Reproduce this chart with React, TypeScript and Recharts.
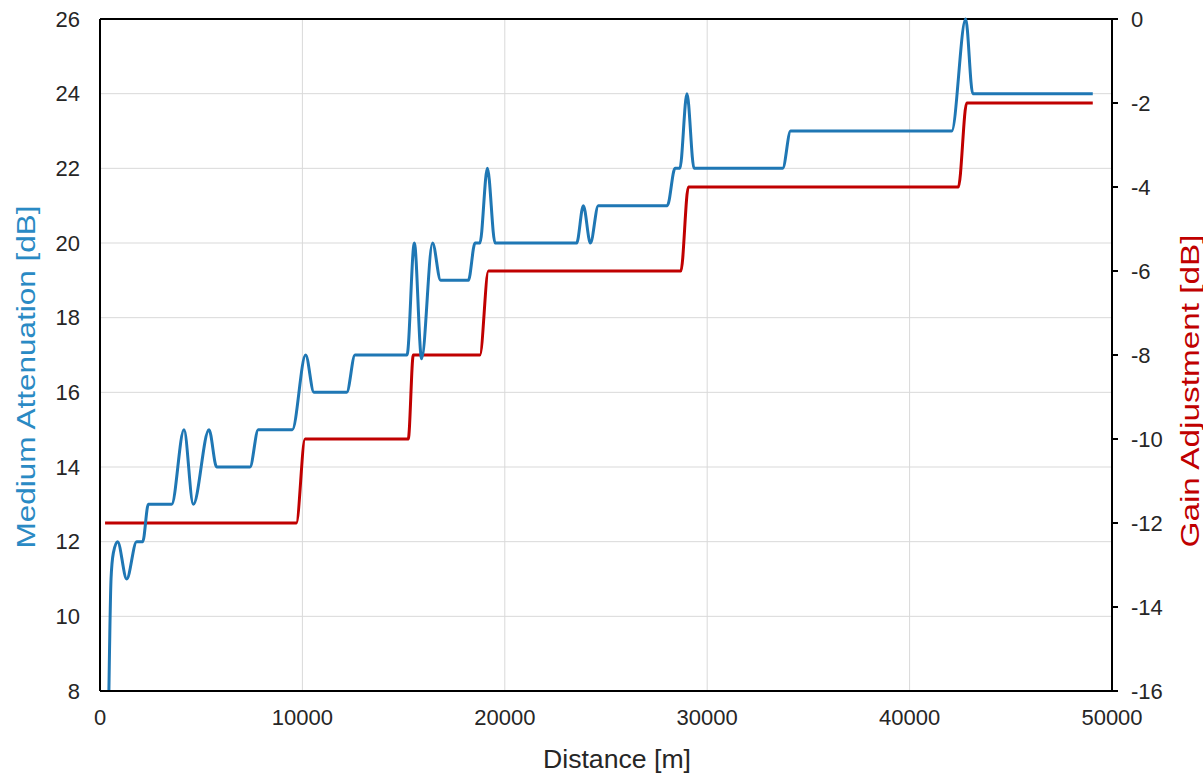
import React from 'react';
import { LineChart, Line, XAxis, YAxis, CartesianGrid, ReferenceLine, Label } from 'recharts';

// Axis ticks
const distanceTicks = [0, 10000, 20000, 30000, 40000, 50000];
const attenuationTicks = [8, 10, 12, 14, 16, 18, 20, 22, 24, 26];
const gainTicks = [-16, -14, -12, -10, -8, -6, -4, -2, 0];

// Medium attenuation profile along the distance [m] -> [dB]
const attenuationDistance = [
  440, 545, 660, 870, 1320, 1810, 2110, 2390, 3540, 4150, 4610, 5385, 5765, 7410, 7820, 9500,
  10160, 10570, 12190, 12600, 15170, 15530, 15890, 16430, 16830, 18200, 18530, 18770, 19140,
  19520, 23550, 23880, 24230, 24620, 28030, 28410, 28650, 29000, 29350, 33730, 34120, 42080,
  42770, 43120, 49050,
];
const attenuationDb = [
  8, 11, 11.7, 12, 11, 12, 12, 13, 13, 15, 13, 15, 14, 14, 15, 15,
  17, 16, 16, 17, 17, 20, 16.9, 20, 19, 19, 20, 20, 22,
  20, 20, 21, 20, 21, 21, 22, 22, 24, 22, 22, 23, 23,
  26, 24, 24,
];

// Gain adjustment steps along the distance [m] -> [dB]
const gainDistance = [250, 9700, 10130, 15230, 15480, 18770, 19190, 28700, 29070, 42410, 42820, 49050];
const gainDb = [-12, -12, -10, -10, -8, -8, -6, -6, -4, -4, -2, -2];

const attenuationPoints = attenuationDistance.map((d, i) => ({ distance: d, attenuation: attenuationDb[i] }));
const gainPoints = gainDistance.map((d, i) => ({ distance: d, gain: gainDb[i] }));

const FONT = '"Liberation Sans", Arial, sans-serif';
const BLUE = '#1f77b4';
const BLUE_TEXT = '#2a8ac4';
const RED = '#c00000';
const TEXT = '#262626';
const TICK = { fill: TEXT, fontSize: 22, fontFamily: FONT };

const VerticalTitle = ({ cx, cy, text, color, length }: any) => (
  <text
    x={cx}
    y={cy}
    transform={`rotate(-90, ${cx}, ${cy})`}
    textAnchor="middle"
    dominantBaseline="central"
    fontSize={25}
    fill={color}
    fontFamily={FONT}
    textLength={length}
    lengthAdjust="spacingAndGlyphs"
  >
    {text}
  </text>
);

export default function App() {
  return (
    <div style={{ position: 'absolute', left: 0, top: 0, width: 1203, height: 778 }}>
      <LineChart
        width={1203}
        height={778}
        margin={{ top: 19, right: 0, bottom: 0, left: 0 }}
        style={{ fontFamily: FONT }}
      >
        <CartesianGrid yAxisId="left" stroke="#d9d9d9" strokeWidth={1} />
        <XAxis
          dataKey="distance"
          type="number"
          domain={[0, 50000]}
          ticks={distanceTicks}
          interval={0}
          height={87}
          tickLine={false}
          tickSize={6}
          tickMargin={12}
          axisLine={{ stroke: '#000', strokeWidth: 2 }}
          tick={TICK}
        >
          <Label
            content={({ viewBox }: any) => (
              <text
                x={viewBox.x + viewBox.width / 2 + 11}
                y={viewBox.y + viewBox.height - 10}
                textAnchor="middle"
                fontSize={26}
                fill={TEXT}
                fontFamily={FONT}
                textLength={148}
                lengthAdjust="spacingAndGlyphs"
              >
                Distance [m]
              </text>
            )}
          />
        </XAxis>
        <YAxis
          yAxisId="left"
          orientation="left"
          domain={[8, 26]}
          ticks={attenuationTicks}
          interval={0}
          width={100}
          tickLine={false}
          tickSize={6}
          tickMargin={14}
          axisLine={{ stroke: '#000', strokeWidth: 2 }}
          tick={TICK}
        >
          <Label
            content={({ viewBox }: any) => (
              <VerticalTitle
                cx={viewBox.x + 26}
                cy={377}
                text="Medium Attenuation [dB]"
                color={BLUE_TEXT}
                length={343}
              />
            )}
          />
        </YAxis>
        <YAxis
          yAxisId="right"
          orientation="right"
          domain={[-16, 0]}
          ticks={gainTicks}
          interval={0}
          width={91}
          tickLine={{ stroke: '#000', strokeWidth: 2 }}
          tickSize={6}
          tickMargin={13}
          axisLine={{ stroke: '#000', strokeWidth: 2 }}
          tick={TICK}
        >
          <Label
            content={({ viewBox }: any) => (
              <VerticalTitle
                cx={viewBox.x + 78}
                cy={391}
                text="Gain Adjustment [dB]"
                color={RED}
                length={313}
              />
            )}
          />
        </YAxis>
        <ReferenceLine yAxisId="left" y={26} stroke="#000" strokeWidth={2} />
        <Line
          yAxisId="right"
          data={gainPoints}
          dataKey="gain"
          type="monotone"
          stroke={RED}
          strokeWidth={3}
          dot={false}
          activeDot={false}
          isAnimationActive={false}
        />
        <Line
          yAxisId="left"
          data={attenuationPoints}
          dataKey="attenuation"
          type="monotone"
          stroke={BLUE}
          strokeWidth={3}
          dot={false}
          activeDot={false}
          isAnimationActive={false}
        />
      </LineChart>
    </div>
  );
}
